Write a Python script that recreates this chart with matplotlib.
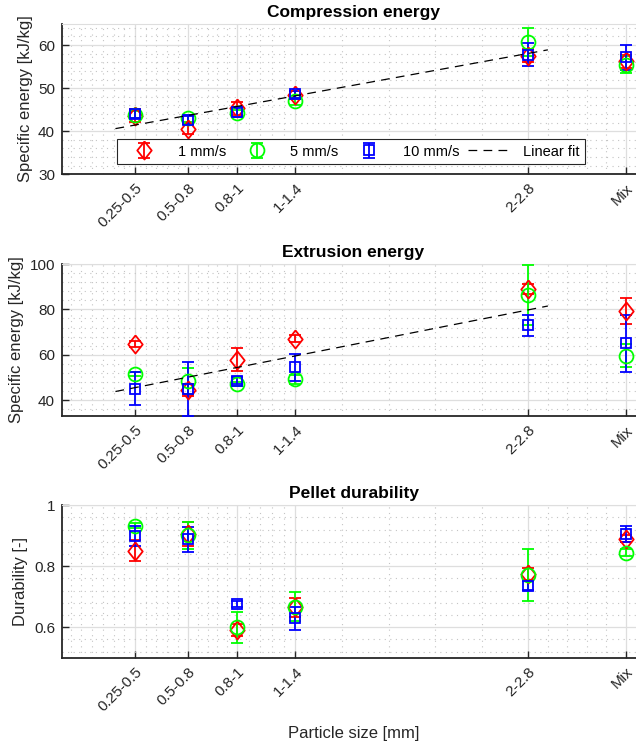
"""Compression, extrusion and durability vs particle size."""

import numpy as np
import matplotlib
matplotlib.use("Agg")
import matplotlib.pyplot as plt
from matplotlib.ticker import FixedLocator, AutoMinorLocator

# ----------------------------------------------------------------------
# Data
# ----------------------------------------------------------------------

size_labels = ["0.25-0.5", "0.5-0.8", "0.8-1", "1-1.4", "2-2.8", "Mix"]
size_pos = [0.375, 0.65, 0.9, 1.2, 2.4, 2.9]
speed_labels = ["1 mm/s", "5 mm/s", "10 mm/s"]

# compression energy [kJ/kg]
comp_1 = [43.6, 40.5, 45.3, 48.4, 57.5, 56.2]
comp_1_err = [1.5, 1.2, 1.5, 1.0, 1.5, 1.5]
comp_5 = [43.8, 43.0, 44.2, 46.9, 60.7, 55.4]
comp_5_err = [0.8, 0.8, 0.8, 0.8, 3.3, 2.0]
comp_10 = [44.0, 42.6, 44.4, 48.6, 57.8, 57.2]
comp_10_err = [1.0, 1.0, 1.0, 0.8, 2.6, 2.9]
comp_fit = [38.34, 8.22]  # intercept, slope

# extrusion energy [kJ/kg]
extr_1 = [64.7, 44.5, 57.8, 67.0, 89.0, 79.3]
extr_1_err = [1.5, 2.5, 5.1, 1.5, 2.0, 5.9]
extr_5 = [51.5, 48.3, 47.2, 49.2, 86.4, 59.5]
extr_5_err = [1.0, 5.7, 1.0, 2.0, 13.2, 5.1]
extr_10 = [45.0, 44.9, 48.6, 54.4, 72.9, 65.0]
extr_10_err = [7.3, 11.8, 1.5, 6.0, 4.5, 12.7]
extr_fit = [39.14, 16.94]

# pellet durability [-]
dur_1 = [0.851, 0.905, 0.590, 0.665, 0.775, 0.891]
dur_1_err = [0.035, 0.040, 0.020, 0.032, 0.020, 0.012]
dur_5 = [0.933, 0.902, 0.600, 0.667, 0.771, 0.844]
dur_5_err = [0.008, 0.044, 0.051, 0.047, 0.085, 0.012]
dur_10 = [0.899, 0.888, 0.676, 0.629, 0.736, 0.906]
dur_10_err = [0.034, 0.042, 0.010, 0.038, 0.015, 0.027]

# ----------------------------------------------------------------------
# Style
# ----------------------------------------------------------------------

plt.rcParams["font.family"] = ["Liberation Sans", "DejaVu Sans"]
plt.rcParams["font.size"] = 11

AX_COLOR = "#262626"
COLORS = ["#ff0000", "#00ff00", "#0000ff"]
DIAMOND = [(0, 1), (0.8, 0), (0, -1), (-0.8, 0), (0, 1)]
MARKERS = [DIAMOND, "o", "s"]
MSIZES = [13, 10, 7.5]


def minor_positions(majors, n=5):
    out = []
    step0 = (majors[1] - majors[0]) / n
    x = majors[0] - step0
    while x > 0:
        out.append(x)
        x -= step0
    for a, b in zip(majors[:-1], majors[1:]):
        st = (b - a) / n
        out.extend(a + st * k for k in range(1, n))
    st = (majors[-1] - majors[-2]) / n
    x = majors[-1] + st
    while x < 3:
        out.append(x)
        x += st
    return out


def style_axes(ax, title, ylabel, ylim, yticks, show_x_label=False):
    ax.set_xlim(0, 3)
    ax.set_ylim(*ylim)
    ax.set_yticks(yticks)
    ax.yaxis.set_minor_locator(AutoMinorLocator(5))
    ax.set_xticks(size_pos)
    ax.xaxis.set_minor_locator(FixedLocator(minor_positions(size_pos)))
    ax.set_xticklabels(size_labels, rotation=45, ha="right",
                       rotation_mode="anchor")
    ax.tick_params(which="major", direction="in", length=5, width=1.0,
                   colors=AX_COLOR, labelsize=11, pad=5)
    ax.tick_params(which="minor", length=0)
    ax.grid(which="major", color="#dedede", linewidth=0.9)
    ax.grid(which="minor", color="#c4c4c4", linewidth=0.8,
            linestyle=(0, (1, 4)))
    ax.set_axisbelow(True)
    for side in ["left", "bottom"]:
        ax.spines[side].set_color(AX_COLOR)
        ax.spines[side].set_linewidth(1.3)
    ax.spines["top"].set_color("#dedede")
    ax.spines["right"].set_visible(False)
    ax.set_title(title, fontweight="bold", fontsize=12.5, pad=5)
    ax.set_ylabel(ylabel, color=AX_COLOR, fontsize=12)
    if show_x_label:
        ax.set_xlabel("Particle size [mm]", color=AX_COLOR, fontsize=12,
                      labelpad=9)


def draw_series(ax, series, fit=None):
    handles = []
    for (vals, errs), col, mk, ms, lab in zip(series, COLORS, MARKERS,
                                               MSIZES, speed_labels):
        h = ax.errorbar(size_pos, vals, yerr=errs, linestyle="none",
                        marker=mk, ms=ms, mfc="none", mec=col, mew=1.3,
                        ecolor=col, elinewidth=1.3, capsize=4,
                        capthick=1.3, zorder=3, label=lab)
        handles.append(h)
    if fit is not None:
        fx = np.array([size_pos[0] - 0.1, size_pos[4] + 0.1])
        ln, = ax.plot(fx, fit[0] + fit[1] * fx, color="black",
                      linestyle=(0, (7, 5)), linewidth=0.9, zorder=4,
                      label="Linear fit")
        handles.append(ln)
    return handles


# ----------------------------------------------------------------------
# Figure
# ----------------------------------------------------------------------

fig = plt.figure(figsize=(6.36, 7.49), dpi=100)
ax1 = fig.add_axes([0.0975, 0.7673, 0.9167, 0.2013])
ax2 = fig.add_axes([0.0975, 0.4446, 0.9167, 0.2029])
ax3 = fig.add_axes([0.0975, 0.1219, 0.9167, 0.2035])

handles = draw_series(ax1, [(comp_1, comp_1_err), (comp_5, comp_5_err),
                            (comp_10, comp_10_err)], comp_fit)
style_axes(ax1, "Compression energy", "Specific energy [kJ/kg]",
           (30, 65), [30, 40, 50, 60])

draw_series(ax2, [(extr_1, extr_1_err), (extr_5, extr_5_err),
                  (extr_10, extr_10_err)], extr_fit)
style_axes(ax2, "Extrusion energy", "Specific energy [kJ/kg]",
           (33, 100), [40, 60, 80, 100])

draw_series(ax3, [(dur_1, dur_1_err), (dur_5, dur_5_err),
                  (dur_10, dur_10_err)])
style_axes(ax3, "Pellet durability", "Durability [-]",
           (0.5, 1.0), [0.6, 0.8, 1.0], show_x_label=True)
ax3.set_yticklabels(["0.6", "0.8", "1"])

leg = ax1.legend(handles=handles, loc="center", ncol=4,
                 bbox_to_anchor=(0.4957, 0.151),
                 fancybox=False, framealpha=1, edgecolor="#262626",
                 fontsize=10.5, handlelength=3, borderpad=0.35,
                 columnspacing=0.6, handletextpad=0.8, borderaxespad=0)
leg.get_frame().set_linewidth(0.8)

fig.savefig("out.png", dpi=100)
